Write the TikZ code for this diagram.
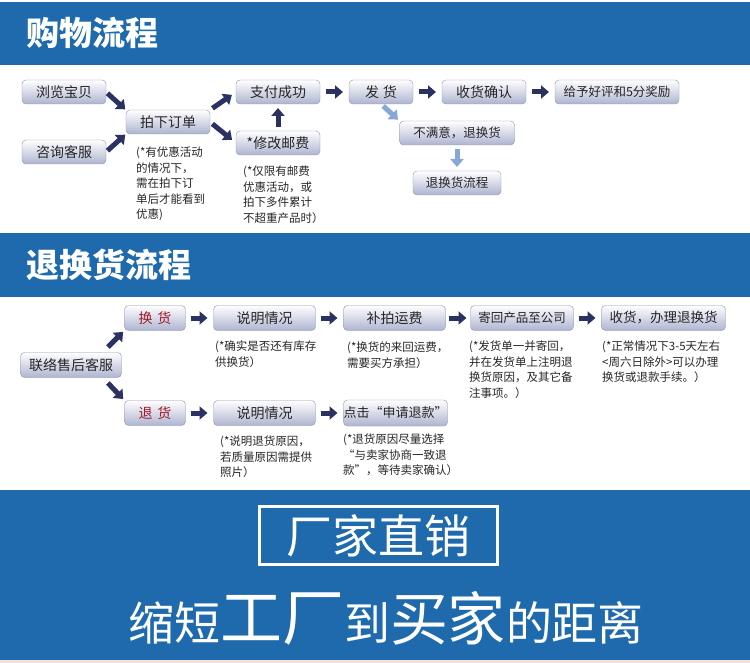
\documentclass[tikz,border=0pt]{standalone}
\usepackage{fontspec}
\setmainfont{Noto Sans CJK SC}
\usetikzlibrary{positioning,arrows.meta}
\definecolor{bannerblue}{HTML}{1F6AAD}
\definecolor{boxline}{HTML}{8C92AE}
\definecolor{boxshade}{HTML}{AEB4D0}
\definecolor{boxtext}{HTML}{262626}
\definecolor{notetext}{HTML}{262626}
\definecolor{arrownavy}{HTML}{2B3263}
\definecolor{lightarrow}{HTML}{86A8D6}
\definecolor{exred}{HTML}{A3182B}
\definecolor{footline}{HTML}{F2DEDE}

\begin{document}
\begin{tikzpicture}[x=1pt, y=-1pt, node distance=28pt,
BoxStyle/.style={draw=boxline, rounded corners=4pt, top color=white,
                bottom color=boxshade, minimum height=24pt, inner sep=0pt,
                outer sep=0pt, text=boxtext, font=\fontsize{14}{16}\selectfont},
SmallBox/.style={BoxStyle, font=\fontsize{12.5}{15}\selectfont},
NoteStyle/.style={anchor=north west, align=left, inner sep=0pt,
                text=notetext, font=\fontsize{11.5}{15.5}\selectfont},
ArrowStyle/.style={draw=arrownavy, line width=5pt,
                -{Triangle[length=8pt,width=13pt]}},
LightArrow/.style={draw=lightarrow, line width=5pt,
                -{Triangle[length=8pt,width=13pt]}},
TitleStyle/.style={anchor=west, text=white, inner sep=0pt,
                font=\fontsize{33}{37}\selectfont\bfseries},]
\useasboundingbox (0,0) rectangle (750,663);
\fill[white] (0,0) rectangle (750,663);

% banners
\fill[bannerblue] (0,2) rectangle (750,65);
\node[TitleStyle] (t1) at (26,33) {购物流程};
\fill[bannerblue] (0,233) rectangle (750,297);
\node[TitleStyle] (t2) at (26,265) {退换货流程};

% shopping flow
\node [BoxStyle, minimum width=84pt] (b11) at (64,92) {浏览宝贝};
\node [BoxStyle, minimum width=84pt] (b12) at (64,152) {咨询客服};
\node [BoxStyle, minimum width=84pt] (b13) at (168,122) {拍下订单};
\node [BoxStyle, minimum width=84pt] (b14) at (278,92) {支付成功};
\node [BoxStyle, minimum width=84pt] (b15) at (278,143) {*修改邮费};
\node [BoxStyle, minimum width=64pt, right=29pt of b14] (b16) {发\hspace{4pt}货};
\node [BoxStyle, minimum width=84pt, right=29pt of b16] (b17) {收货确认};
\node [SmallBox, minimum width=124pt, right=29pt of b17] (b18) {给予好评和5分奖励};
\node [SmallBox, minimum width=115pt] (b19) at (457,133) {不满意，退换货};
\node [SmallBox, minimum width=88pt, below=26pt of b19] (b20) {退换货流程};

\node [NoteStyle] (n11) at (136,147) {(*有优惠活动\\的情况下，\\需在拍下订\\单后才能看到\\优惠)};
\node [NoteStyle] (n12) at (243,166) {(*仅限有邮费\\优惠活动，或\\拍下多件累计\\不超重产品时）};

\draw [ArrowStyle, shorten <=2pt, shorten >=1pt] (b11.east) -- (b13.north west);
\draw [ArrowStyle, shorten <=2pt, shorten >=1pt] (b12.east) -- (b13.south west);
\draw [ArrowStyle, shorten <=3pt, shorten >=5pt] (b13.north east) -- (b14.west);
\draw [ArrowStyle, shorten <=3pt, shorten >=5pt] (b13.east) -- (b15.west);
\draw [ArrowStyle, shorten <=4pt, shorten >=4pt] (b15) -- (b14);
\draw [ArrowStyle, shorten <=6pt, shorten >=6pt] (b14) -- (b16);
\draw [ArrowStyle, shorten <=6pt, shorten >=6pt] (b16) -- (b17);
\draw [ArrowStyle, shorten <=6pt, shorten >=6pt] (b17) -- (b18);
\draw [LightArrow, shorten <=3pt, shorten >=2pt] (b16.south) -- (b19.north west);
\draw [LightArrow, shorten <=4pt, shorten >=4pt] (b19) -- (b20);

% return flow
\node [BoxStyle, minimum width=101pt, minimum height=25pt] (r1) at (71,365) {联络售后客服};
\node [BoxStyle, minimum width=61pt, minimum height=25pt, text=exred] (r2) at (155,318) {换\hspace{5pt}货};
\node [BoxStyle, minimum width=102pt, minimum height=25pt, right=of r2] (r3) {说明情况};
\node [BoxStyle, minimum width=102pt, minimum height=25pt, right=of r3] (r4) {补拍运费};
\node [SmallBox, minimum width=103pt, minimum height=25pt, right=25pt of r4] (r5) {寄回产品至公司};
\node [SmallBox, minimum width=124pt, minimum height=25pt, right=of r5, font=\fontsize{13.5}{16}\selectfont] (r6) {收货，办理退换货};
\node [BoxStyle, minimum width=61pt, minimum height=25pt, text=exred] (r7) at (155,413) {退\hspace{5pt}货};
\node [BoxStyle, minimum width=102pt, minimum height=25pt, right=of r7] (r8) {说明情况};
\node [SmallBox, minimum width=102pt, minimum height=26pt, right=of r8, font=\fontsize{13}{16}\selectfont] (r9) {点击“申请退款”};

\node [NoteStyle] (n21) at (215,341) {(*确实是否还有库存\\供换货）};
\node [NoteStyle] (n22) at (347,342) {(*换货的来回运费，\\需要买方承担）};
\node [NoteStyle] (n23) at (469,341) {(*发货单一并寄回，\\并在发货单上注明退\\换货原因，及其它备\\注事项。）};
\node [NoteStyle] (n24) at (602,341) {(*正常情况下3-5天左右\\<周六日除外>可以办理\\换货或退款手续。）};
\node [NoteStyle] (n25) at (220,436) {(*说明退货原因，\\若质量原因需提供\\照片）};
\node [NoteStyle] (n26) at (343,434) {(*退货原因尽量选择\\“与卖家协商一致退\\款”，等待卖家确认）};

\draw [ArrowStyle, shorten <=2pt, shorten >=2pt] ([xshift=-15pt,yshift=4pt]r1.north east) -- (r2.south west);
\draw [ArrowStyle, shorten <=2pt, shorten >=2pt] ([xshift=-15pt,yshift=-4pt]r1.south east) -- (r7.north west);
\draw [ArrowStyle, shorten <=5pt, shorten >=6pt] (r2) -- (r3);
\draw [ArrowStyle, shorten <=5pt, shorten >=6pt] (r3) -- (r4);
\draw [ArrowStyle, shorten <=3pt, shorten >=4pt] (r4) -- (r5);
\draw [ArrowStyle, shorten <=5pt, shorten >=6pt] (r5) -- (r6);
\draw [ArrowStyle, shorten <=5pt, shorten >=6pt] (r7) -- (r8);
\draw [ArrowStyle, shorten <=5pt, shorten >=6pt] (r8) -- (r9);

% footer
\fill[bannerblue] (0,490) rectangle (750,660);
\fill[footline] (0,660) rectangle (750,663);
\node [draw=white, line width=3pt, minimum width=238pt, minimum height=58pt,
      text=white, font=\fontsize{46}{50}\selectfont] (d1) at (378.5,535.5) {厂家直销};
\node [anchor=base, text=white, inner sep=0pt, font=\fontsize{46}{50}\selectfont] (d2) at (386,640)
      {缩短{\fontsize{62}{64}\selectfont 工厂}到{\fontsize{58}{60}\selectfont 买家}的距离};
\end{tikzpicture}
\end{document}
